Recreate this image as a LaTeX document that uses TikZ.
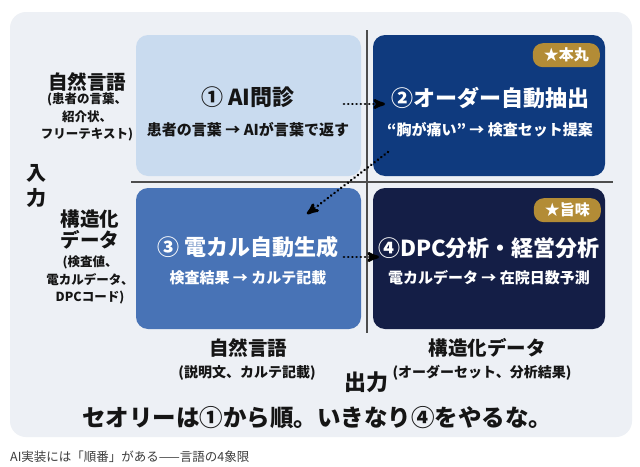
\documentclass[tikz,border=0pt]{standalone}
\usepackage{fontspec}
\setmainfont{Noto Sans CJK JP}
\usetikzlibrary{positioning,arrows}

\definecolor{panelbg}{HTML}{EDF0F5}
\definecolor{quadA}{HTML}{C9DBEF}
\definecolor{quadB}{HTML}{0F3A7E}
\definecolor{quadC}{HTML}{4873B6}
\definecolor{quadD}{HTML}{141E46}
\definecolor{badgegold}{HTML}{B38C36}
\definecolor{axisgray}{HTML}{4D4D4D}
\definecolor{inktext}{HTML}{151515}
\definecolor{captiongray}{HTML}{3C3C3C}

\begin{document}
\begin{tikzpicture}[
        x=1pt, y=-1pt,
        quadrant/.style={
                rectangle,
                rounded corners=12pt,
                minimum width=225pt,
                minimum height=141pt,
                inner sep=0pt,
                outer sep=0pt
            },
        qtitle/.style = {font=\bfseries\fontsize{22}{24}\selectfont},
        qsub/.style = {font=\bfseries\fontsize{15}{17}\selectfont},
        badge/.style = {
                rectangle,
                rounded corners=10pt,
                fill=badgegold,
                text=white,
                minimum width=67pt,
                minimum height=24pt,
                inner sep=0pt,
                font=\bfseries\fontsize{15}{17}\selectfont
            },
        axislabel/.style = {align=center, text=inktext, font=\bfseries\fontsize{19.5}{21}\selectfont},
        axisnote/.style = {align=center, text=inktext, font=\bfseries\fontsize{12.5}{17.5}\selectfont},
        axisline/.style = {draw=axisgray, line width=2.2pt},
        flow/.style = {->, line width=2.8pt, line cap=round, dash pattern=on 0.01pt off 4.2pt},
        >= stealth'
    ]
    % canvas and panel
    \useasboundingbox[fill=white] (0,0) rectangle (640,466);
    \fill[panelbg, rounded corners=16pt] (10,12) rectangle (632,437);

    % axes
    \coordinate (ytop) at (367,30);
    \coordinate (ybot) at (367,333);
    \coordinate (xleft) at (131,182);
    \coordinate (xright) at (613,182);
    \draw[axisline] (ytop) -- (ybot);
    \draw[axisline] (xleft) -- (xright);

    % quadrants
    \node[quadrant, fill=quadA] (q1) at (248.5,105.5) {};
    \node[quadrant, fill=quadB, minimum width=232pt, right=12pt of q1] (q2) {};
    \node[quadrant, fill=quadC, below=12pt of q1] (q3) {};
    \node[quadrant, fill=quadD, minimum width=232pt, right=12pt of q3] (q4) {};

    \node[qtitle, text=inktext] (t1) at (248,97) {① AI問診};
    \node[qsub, text=inktext] (s1) at (248,130) {患者の言葉 → AIが言葉で返す};
    \node[qtitle, text=white] (t2) at (490,98) {②オーダー自動抽出};
    \node[qsub, text=white] (s2) at (490,130) {“胸が痛い” → 検査セット提案};
    \node[qtitle, text=white] (t3) at (248,247) {③ 電カル自動生成};
    \node[qsub, text=white] (s3) at (248,278) {検査結果 → カルテ記載};
    \node[qtitle, text=white] (t4) at (489,248) {④DPC分析・経営分析};
    \node[qsub, text=white] (s4) at (489,278) {電カルデータ → 在院日数予測};

    \node[badge, anchor=north east] (b2) at ([xshift=-5pt,yshift=-8pt]q2.north east) {★本丸};
    \node[badge, anchor=north east] (b4) at ([xshift=-4pt,yshift=-10pt]q4.north east) {★旨味};

    % flow between quadrants
    \coordinate (f12a) at (344,104);
    \coordinate (f12b) at (385,104);
    \coordinate (f23a) at (388,152);
    \coordinate (f23b) at (307,214);
    \coordinate (f34a) at (344,257);
    \coordinate (f34b) at (379,257);
    \draw[flow] (f12a) -- (f12b);
    \draw[flow] (f23a) -- (f23b);
    \draw[flow] (f34a) -- (f34b);

    % input axis
    \node[axislabel, font=\bfseries\fontsize{20}{25}\selectfont] (input) at (37,186) {入\\力};
    \node[axislabel] (inNL) at (87,82) {自然言語};
    \node[axisnote] (inNLnote) at (87,117) {(患者の言葉、\\紹介状、\\フリーテキスト)};
    \node[axislabel] (inSD) at (90,230) {構造化\\データ};
    \node[axisnote] (inSDnote) at (90,280) {(検査値、\\電カルデータ、\\DPCコード)};

    % output axis
    \node[axislabel] (outNL) at (248,348) {自然言語};
    \node[axisnote, font=\bfseries\fontsize{14}{16}\selectfont] (outNLnote) at (247,373) {(説明文、カルテ記載)};
    \node[axislabel] (outSD) at (487,348) {構造化データ};
    \node[axisnote, font=\bfseries\fontsize{14}{16}\selectfont] (outSDnote) at (482,373) {(オーダーセット、分析結果)};
    \node[axislabel, font=\bfseries\fontsize{22}{24}\selectfont] (output) at (366,382) {出力};

    \node[text=inktext, font=\bfseries\fontsize{23.5}{26}\selectfont] (motto) at (317,418) {セオリーは①から順。いきなり④をやるな。};
    \node[anchor=west, text=captiongray, font=\fontsize{12.5}{14}\selectfont, inner sep=0pt] (caption) at (10,457) {AI実装には「順番」がある——言語の4象限};
\end{tikzpicture}
\end{document}
